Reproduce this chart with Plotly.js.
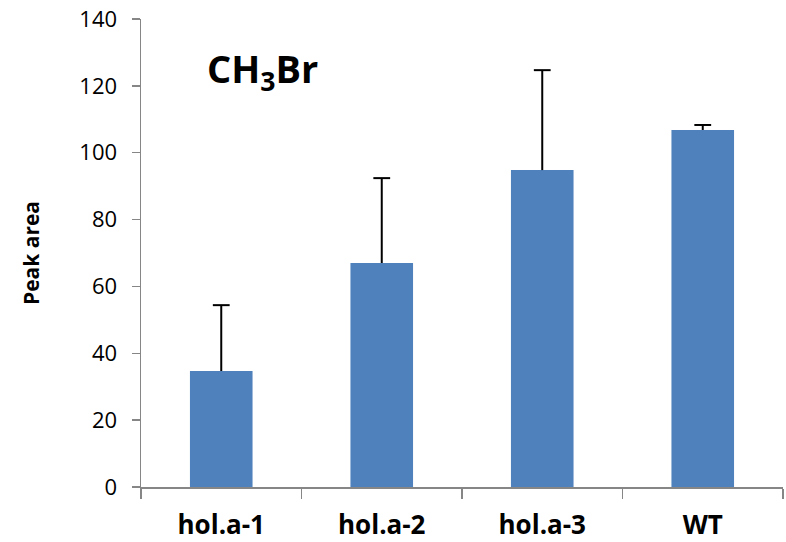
<!DOCTYPE html>
<html>
<head>
<meta charset="utf-8">
<script src="https://cdn.plot.ly/plotly-3.0.1.min.js"></script>
<style>html,body{margin:0;padding:0;background:#fff;}#chart{width:786px;height:542px;}</style>
</head>
<body>
<div id="chart"></div>
<script>
const categories = ["hol.a-1", "hol.a-2", "hol.a-3", "WT"];
const peakArea = [34.7, 67.0, 94.8, 106.8];
const errorPlus = [19.7, 25.4, 29.9, 1.5];
const errorMinus = [0, 0, 0, 0];
const yTickVals = [0, 20, 40, 60, 80, 100, 120, 140];

const barTrace = {
  type: "bar",
  x: categories,
  y: peakArea,
  marker: {color: "#4F81BD", line: {width: 0}},
  error_y: {
    type: "data",
    symmetric: false,
    array: errorPlus,
    arrayminus: errorMinus,
    color: "#000000",
    thickness: 2,
    width: 0
  },
  hoverinfo: "none"
};

// caps on the top end of each (plus-only) error bar
const capTrace = {
  type: "scatter",
  mode: "markers",
  x: categories,
  y: peakArea.map((v, i) => v + errorPlus[i]),
  marker: {symbol: "line-ew", size: 12, color: "#000000", line: {color: "#000000", width: 2}},
  hoverinfo: "none",
  cliponaxis: false
};

const layout = {
  width: 786,
  height: 542,
  margin: {l: 141, r: 3, t: 19, b: 55, pad: 0},
  paper_bgcolor: "#ffffff",
  plot_bgcolor: "#ffffff",
  showlegend: false,
  bargap: 0.61,
  font: {family: "Open Sans, sans-serif", color: "#000000"},
  xaxis: {
    type: "category",
    showline: true,
    linecolor: "#868686",
    linewidth: 1.5,
    ticks: "outside",
    tickson: "boundaries",
    ticklen: 10,
    tickwidth: 1.5,
    tickcolor: "#868686",
    showgrid: false,
    zeroline: false,
    ticklabelstandoff: 14,
    tickfont: {family: "Open Sans, sans-serif", size: 26, color: "#000000", weight: "bold"}
  },
  yaxis: {
    range: [0, 140],
    tickvals: yTickVals,
    ticktext: yTickVals.map(String),
    showline: true,
    linecolor: "#868686",
    linewidth: 1.5,
    ticks: "outside",
    ticklen: 8,
    tickwidth: 1.5,
    tickcolor: "#868686",
    showgrid: false,
    zeroline: false,
    ticklabelstandoff: 10,
    tickfont: {family: "Open Sans, sans-serif", size: 22, color: "#000000"},
    title: {
      text: "<b>Peak area</b>",
      font: {family: "Open Sans, sans-serif", size: 21, color: "#000000"},
      standoff: 34
    }
  },
  annotations: [{
    text: "<b>CH<sub>3</sub>Br</b>",
    xref: "paper", yref: "paper",
    x: 0.099, y: 0.89,
    xanchor: "left", yanchor: "middle",
    showarrow: false,
    font: {family: "Open Sans, sans-serif", size: 38, color: "#000000"}
  }]
};

Plotly.newPlot("chart", [barTrace, capTrace], layout, {staticPlot: true, displayModeBar: false});
</script>
</body>
</html>
